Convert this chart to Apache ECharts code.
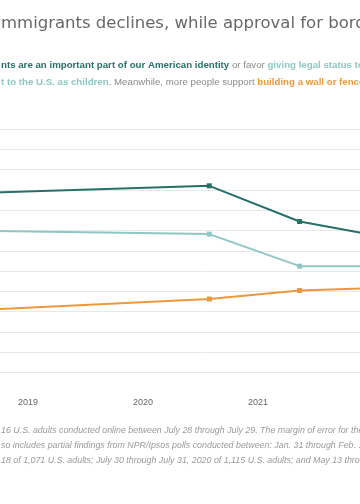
<!DOCTYPE html>
<html>
<head>
<meta charset="utf-8">
<script src="https://cdn.jsdelivr.net/npm/echarts@6/dist/echarts.min.js"></script>
<style>
html,body{margin:0;padding:0;width:360px;height:504px;overflow:hidden;background:#fff;}
#c{position:absolute;left:-170px;top:0;width:700px;height:504px;}
</style>
</head>
<body>
<div id="c"></div>
<script>
// Poll dates (NPR/Ipsos)
const pollDates = ['2018-01-31', '2020-07-30', '2021-05-13', '2022-07-28'];
// Share of U.S. adults (%)
const identity = [73.8, 76.0, 67.2, 60.9];      // immigrants are an important part of our American identity
const legalStatus = [65.1, 64.1, 56.2, 56.2];   // giving legal status to immigrants brought to the U.S. as children
const borderWall = [44.7, 48.1, 50.2, 51.3];    // building a wall or fence on the border
// Axis settings
const yearMin = 2018, yearMax = 2023;
const yMin = 30, yMax = 90, yStep = 5;

const titleText = 'mmigrants declines, while approval for border wall rises';
const subLine1 = '{d|nts are an important part of our American identity}{g| or favor }{l|giving legal status to immigrants brought}';
const subLine2 = '{l|t to the U.S. as children}{g|. Meanwhile, more people support }{o|building a wall or fence along the border}';
const noteLines = [
  '16 U.S. adults conducted online between July 28 through July 29. The margin of error for the total sample is 3.5 percentage points.',
  'so includes partial findings from NPR/Ipsos polls conducted between: Jan. 31 through Feb. 1, 2018 and',
  '18 of 1,071 U.S. adults; July 30 through July 31, 2020 of 1,115 U.S. adults; and May 13 through May 14, 2021.'
];

const C_DARK = '#26706a', C_LIGHT = '#8fc7c4', C_ORANGE = '#eb993a';

function decimalYear(s) {
  const [y, m, d] = s.split('-').map(Number);
  const start = Date.UTC(y, 0, 1), end = Date.UTC(y + 1, 0, 1);
  return y + (Date.UTC(y, m - 1, d) - start) / (end - start);
}
function pts(vals) { return pollDates.map((d, i) => [decimalYear(d), vals[i]]); }

const OX = 170; // container offset
const chart = echarts.init(document.getElementById('c'), null, {renderer: 'canvas'});
const subFont = '"Liberation Sans", Arial, sans-serif';
const rich = {
  d: {color: C_DARK, fontWeight: 'bold', fontSize: 9.7, fontFamily: subFont, lineHeight: 12},
  l: {color: C_LIGHT, fontWeight: 'bold', fontSize: 9.7, fontFamily: subFont, lineHeight: 12},
  o: {color: C_ORANGE, fontWeight: 'bold', fontSize: 9.7, fontFamily: subFont, lineHeight: 12},
  g: {color: '#8a8a8a', fontWeight: 'normal', fontSize: 9.7, fontFamily: subFont, lineHeight: 12}
};
function line(name, vals, color, z) {
  return {
    name, type: 'line', data: pts(vals), z,
    symbol: 'rect', symbolSize: 5, showSymbol: true,
    lineStyle: {color, width: 2}, itemStyle: {color},
    emphasis: {disabled: true}
  };
}
chart.setOption({
  animation: false,
  backgroundColor: '#fff',
  title: [
    {text: titleText, left: OX + 1, top: 14, padding: 0,
     textStyle: {fontFamily: '"DejaVu Sans", sans-serif', fontSize: 16.5, fontWeight: 'normal', color: '#686868', lineHeight: 20}},
    {text: subLine1, left: OX + 1, top: 59.5, padding: 0, textStyle: {rich, lineHeight: 12}},
    {text: subLine2, left: OX + 1, top: 76, padding: 0, textStyle: {rich, lineHeight: 12}},
    {text: noteLines.join('\n'), left: OX + 1, top: 423.3, padding: 0,
     textStyle: {fontFamily: subFont, fontSize: 8.85, fontStyle: 'italic', fontWeight: 'normal', color: '#9a9a9a', lineHeight: 14.7}}
  ],
  grid: {left: OX - 87, top: 129, width: 575, height: 243.5, containLabel: false},
  xAxis: {
    type: 'value', min: yearMin, max: yearMax, interval: 1,
    axisLine: {show: false}, axisTick: {show: false}, splitLine: {show: false},
    axisLabel: {formatter: v => String(v), color: '#666', fontSize: 9, fontFamily: subFont, margin: 26}
  },
  yAxis: {
    type: 'value', min: yMin, max: yMax, interval: yStep,
    axisLine: {show: false}, axisTick: {show: false},
    axisLabel: {color: '#999', fontSize: 9, formatter: v => v + '%'},
    splitLine: {lineStyle: {color: '#e8e8e8', width: 1}}
  },
  series: [
    line('Border wall', borderWall, C_ORANGE, 2),
    line('Legal status', legalStatus, C_LIGHT, 3),
    line('Identity', identity, C_DARK, 4)
  ]
});
</script>
</body>
</html>
